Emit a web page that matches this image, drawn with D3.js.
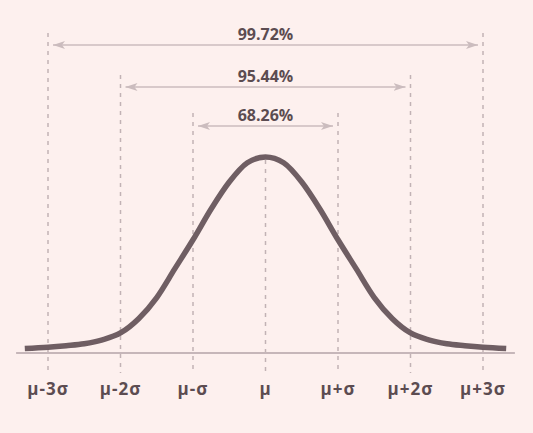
<!DOCTYPE html>
<meta charset="utf-8">
<style>
  body { margin: 0; background: #fdf0ee; }
  svg { display: block; }
  .label { font-family: "Open Sans", "Noto Sans", sans-serif; font-weight: 700; fill: #5c4c51; }
  .guide { stroke: #c2b2b5; stroke-width: 1.5; stroke-dasharray: 4,5; }
  .span { stroke: #cbbcbe; stroke-width: 1.5; }
</style>
<body>
<script src="https://cdn.jsdelivr.net/npm/d3@7"></script>
<script>

// sigma offsets and their tick labels
var sigmaSteps = [-3, -2, -1, 0, 1, 2, 3];
var tickLabels = ["μ-3σ", "μ-2σ", "μ-σ", "μ", "μ+σ", "μ+2σ", "μ+3σ"];

// intervals shown with arrows (±k sigma)
var intervalK = [3, 2, 1];
var intervalLabels = ["99.72%", "95.44%", "68.26%"];

// bell curve (x in sigma, relative height)
var curveZ = [-3.32, -3, -2.75, -2.5, -2.25, -2, -1.75, -1.5, -1.25, -1, -0.75, -0.5, -0.25, 0,
              0.25, 0.5, 0.75, 1, 1.25, 1.5, 1.75, 2, 2.25, 2.5, 2.75, 3, 3.32];
var curveH = [0.005, 0.012, 0.02, 0.03, 0.05, 0.086, 0.16, 0.27, 0.42, 0.57, 0.73, 0.87, 0.97, 1,
              0.97, 0.87, 0.73, 0.57, 0.42, 0.27, 0.16, 0.086, 0.05, 0.03, 0.02, 0.012, 0.005];

var width = 533, height = 433;

var x = d3.scaleLinear().domain([-3, 3]).range([48, 483]);
var y = d3.scaleLinear().domain([0, 1]).range([349.5, 157]);

var svg = d3.select("body").append("svg")
  .attr("width", width)
  .attr("height", height);

svg.append("defs").append("marker")
  .attr("id", "head")
  .attr("viewBox", "0 0 12 10")
  .attr("refX", 12).attr("refY", 5)
  .attr("markerWidth", 12).attr("markerHeight", 10)
  .attr("markerUnits", "userSpaceOnUse")
  .attr("orient", "auto-start-reverse")
  .append("path")
  .attr("d", "M0,1L12,5L0,9L3,5Z")
  .attr("fill", "#cbbcbe");

// top of each dashed guide, by |k|
var guideTop = { 3: 33, 2: 75, 1: 113, 0: 160 };
var arrowY = { 3: 45, 2: 87, 1: 126 };

svg.append("g").selectAll("line")
  .data(sigmaSteps)
  .join("line")
  .attr("class", "guide")
  .attr("x1", function (d) { return x(d); })
  .attr("x2", function (d) { return x(d); })
  .attr("y1", function (d) { return guideTop[Math.abs(d)]; })
  .attr("y2", 373);

// axis line
svg.append("line")
  .attr("x1", x(-3.44)).attr("x2", x(3.44))
  .attr("y1", 353).attr("y2", 353)
  .attr("stroke", "#c6b6b9")
  .attr("stroke-width", 2);

// the curve
var line = d3.line()
  .x(function (d, i) { return x(curveZ[i]); })
  .y(function (d) { return y(d); })
  .curve(d3.curveMonotoneX);

svg.append("path")
  .datum(curveH)
  .attr("d", line)
  .attr("fill", "none")
  .attr("stroke", "#6f5e63")
  .attr("stroke-width", 5.5);

// interval arrows + labels
var spans = svg.append("g").selectAll("g")
  .data(intervalK)
  .join("g");

spans.append("line")
  .attr("class", "span")
  .attr("x1", function (k) { return x(-k) + 5; })
  .attr("x2", function (k) { return x(k) - 5; })
  .attr("y1", function (k) { return arrowY[k]; })
  .attr("y2", function (k) { return arrowY[k]; })
  .attr("marker-start", "url(#head)")
  .attr("marker-end", "url(#head)");

spans.append("text")
  .attr("class", "label")
  .attr("x", x(0))
  .attr("y", function (k) { return arrowY[k] - 5; })
  .attr("text-anchor", "middle")
  .attr("font-size", 16)
  .text(function (k, i) { return intervalLabels[i]; });

// tick labels
svg.append("g").selectAll("text")
  .data(sigmaSteps)
  .join("text")
  .attr("class", "label")
  .attr("x", function (d) { return x(d); })
  .attr("y", 395)
  .attr("text-anchor", "middle")
  .attr("font-size", 17)
  .attr("letter-spacing", 1)
  .text(function (d, i) { return tickLabels[i]; });

</script>
